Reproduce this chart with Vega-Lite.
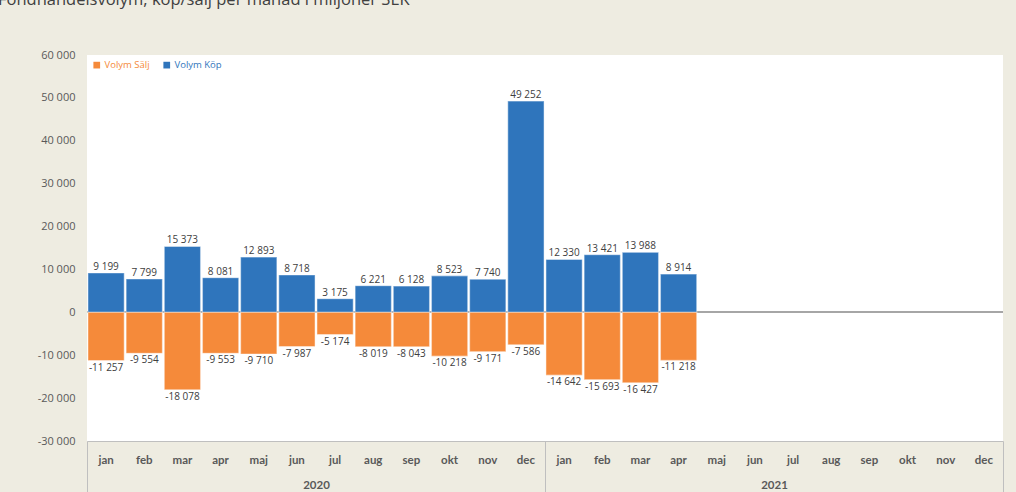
{
  "$schema": "https://vega.github.io/schema/vega-lite/v6.json",
  "width": 916,
  "height": 386,
  "autosize": {"type": "none"},
  "padding": {"left": 87, "top": 55, "right": 13, "bottom": 51},
  "background": "#EEECE1",
  "title": {
    "text": "Fondhandelsvolym, köp/sälj per månad i miljoner SEK",
    "anchor": "start",
    "frame": "group",
    "font": "Open Sans",
    "fontSize": 16.5,
    "fontWeight": "normal",
    "color": "#404040",
    "baseline": "alphabetic",
    "offset": 0,
    "dx": -89,
    "dy": -28
  },
  "config": {
    "locale": {"number": {"decimal": ",", "thousands": " ", "grouping": [3], "currency": ["", " kr"], "minus": "-"}},
    "view": {"fill": "white", "stroke": null},
    "font": "Lato"
  },
  "data": {
    "values": [
      {"period": "2020 jan", "year": "2020", "serie": "Volym Köp", "value": 9199},
      {"period": "2020 feb", "year": "2020", "serie": "Volym Köp", "value": 7799},
      {"period": "2020 mar", "year": "2020", "serie": "Volym Köp", "value": 15373},
      {"period": "2020 apr", "year": "2020", "serie": "Volym Köp", "value": 8081},
      {"period": "2020 maj", "year": "2020", "serie": "Volym Köp", "value": 12893},
      {"period": "2020 jun", "year": "2020", "serie": "Volym Köp", "value": 8718},
      {"period": "2020 jul", "year": "2020", "serie": "Volym Köp", "value": 3175},
      {"period": "2020 aug", "year": "2020", "serie": "Volym Köp", "value": 6221},
      {"period": "2020 sep", "year": "2020", "serie": "Volym Köp", "value": 6128},
      {"period": "2020 okt", "year": "2020", "serie": "Volym Köp", "value": 8523},
      {"period": "2020 nov", "year": "2020", "serie": "Volym Köp", "value": 7740},
      {"period": "2020 dec", "year": "2020", "serie": "Volym Köp", "value": 49252},
      {"period": "2021 jan", "year": "2021", "serie": "Volym Köp", "value": 12330},
      {"period": "2021 feb", "year": "2021", "serie": "Volym Köp", "value": 13421},
      {"period": "2021 mar", "year": "2021", "serie": "Volym Köp", "value": 13988},
      {"period": "2021 apr", "year": "2021", "serie": "Volym Köp", "value": 8914},
      {"period": "2020 jan", "year": "2020", "serie": "Volym Sälj", "value": -11257},
      {"period": "2020 feb", "year": "2020", "serie": "Volym Sälj", "value": -9554},
      {"period": "2020 mar", "year": "2020", "serie": "Volym Sälj", "value": -18078},
      {"period": "2020 apr", "year": "2020", "serie": "Volym Sälj", "value": -9553},
      {"period": "2020 maj", "year": "2020", "serie": "Volym Sälj", "value": -9710},
      {"period": "2020 jun", "year": "2020", "serie": "Volym Sälj", "value": -7987},
      {"period": "2020 jul", "year": "2020", "serie": "Volym Sälj", "value": -5174},
      {"period": "2020 aug", "year": "2020", "serie": "Volym Sälj", "value": -8019},
      {"period": "2020 sep", "year": "2020", "serie": "Volym Sälj", "value": -8043},
      {"period": "2020 okt", "year": "2020", "serie": "Volym Sälj", "value": -10218},
      {"period": "2020 nov", "year": "2020", "serie": "Volym Sälj", "value": -9171},
      {"period": "2020 dec", "year": "2020", "serie": "Volym Sälj", "value": -7586},
      {"period": "2021 jan", "year": "2021", "serie": "Volym Sälj", "value": -14642},
      {"period": "2021 feb", "year": "2021", "serie": "Volym Sälj", "value": -15693},
      {"period": "2021 mar", "year": "2021", "serie": "Volym Sälj", "value": -16427},
      {"period": "2021 apr", "year": "2021", "serie": "Volym Sälj", "value": -11218}
    ]
  },
  "layer": [
    {
      "layer": [
        {
          "mark": {"type": "rule", "color": "#A6A6A6", "strokeWidth": 1},
          "encoding": {"y": {"datum": 0, "type": "quantitative"}}
        },
        {
          "mark": {"type": "bar", "stroke": "#FFFFFF", "strokeOpacity": 0.4, "strokeWidth": 1.2},
          "encoding": {
            "x": {
              "field": "period",
              "type": "nominal",
              "sort": null,
              "scale": {
                "domain": ["2020 jan","2020 feb","2020 mar","2020 apr","2020 maj","2020 jun","2020 jul","2020 aug","2020 sep","2020 okt","2020 nov","2020 dec","2021 jan","2021 feb","2021 mar","2021 apr","2021 maj","2021 jun","2021 jul","2021 aug","2021 sep","2021 okt","2021 nov","2021 dec"],
                "paddingInner": 0.05,
                "paddingOuter": 0.025
              },
              "axis": {
                "title": null,
                "orient": "bottom",
                "labelExpr": "split(datum.label, ' ')[1]",
                "labelAngle": 0,
                "labelFont": "Lato",
                "labelFontSize": 11.5,
                "labelFontWeight": "bold",
                "labelColor": "#595959",
                "labelPadding": 13,
                "ticks": false,
                "domainColor": "#BFBFBF",
                "grid": false
              }
            },
            "y": {
              "field": "value",
              "type": "quantitative",
              "stack": "zero",
              "scale": {"domain": [-30000, 60000], "nice": false},
              "axis": {
                "title": null,
                "values": [-30000, -20000, -10000, 0, 10000, 20000, 30000, 40000, 50000, 60000],
                "format": ",.0f",
                "labelFont": "Open Sans",
                "labelFontSize": 11,
                "labelColor": "#595959",
                "labelPadding": 12,
                "ticks": false,
                "domain": false,
                "gridColor": "#D9D9D9",
                "gridOpacity": {"condition": {"test": "datum.value == 60000 || datum.value == -30000", "value": 0}, "value": 1}
              }
            },
            "color": {
              "field": "serie",
              "type": "nominal",
              "scale": {"domain": ["Volym Sälj", "Volym Köp"], "range": ["#F58A3A", "#2F75BC"]},
              "legend": {
                "title": null,
                "orient": "top-left",
                "direction": "horizontal",
                "offset": 5,
                "symbolType": "square",
                "symbolSize": 45,
                "symbolStrokeWidth": 0,
                "labelFont": "Open Sans",
                "labelFontSize": 9.5,
                "columnPadding": 12,
                "labelOffset": 3,
                "labelColor": {"expr": "datum.value == 'Volym Sälj' ? '#F58A3A' : '#2F75BC'"}
              }
            }
          }
        },
        {
          "transform": [{"filter": "datum.value > 0"}],
          "mark": {"type": "text", "baseline": "bottom", "dy": -1, "font": "Open Sans", "fontSize": 10, "color": "#404040"},
          "encoding": {
            "x": {"field": "period", "type": "nominal", "sort": null},
            "y": {"field": "value", "type": "quantitative"},
            "text": {"field": "value", "type": "quantitative", "format": ",.0f"}
          }
        },
        {
          "transform": [{"filter": "datum.value < 0"}],
          "mark": {"type": "text", "baseline": "top", "dy": 2, "font": "Open Sans", "fontSize": 10, "color": "#404040"},
          "encoding": {
            "x": {"field": "period", "type": "nominal", "sort": null},
            "y": {"field": "value", "type": "quantitative"},
            "text": {"field": "value", "type": "quantitative", "format": ",.0f"}
          }
        }
      ]
    },
    {
      "mark": {"type": "point", "opacity": 0},
      "encoding": {
        "x": {
          "field": "year",
          "type": "nominal",
          "scale": {"domain": ["2020", "2021"], "paddingInner": 0, "paddingOuter": 0},
          "axis": {
            "title": null,
            "orient": "bottom",
            "labelAngle": 0,
            "labelFont": "Lato",
            "labelFontSize": 11.5,
            "labelFontWeight": "bold",
            "labelColor": "#595959",
            "tickBand": "extent",
            "tickSize": 52,
            "tickColor": "#BFBFBF",
            "labelPadding": -14,
            "domain": false,
            "grid": false
          }
        }
      }
    }
  ],
  "resolve": {"scale": {"x": "independent"}, "axis": {"x": "independent"}}
}
